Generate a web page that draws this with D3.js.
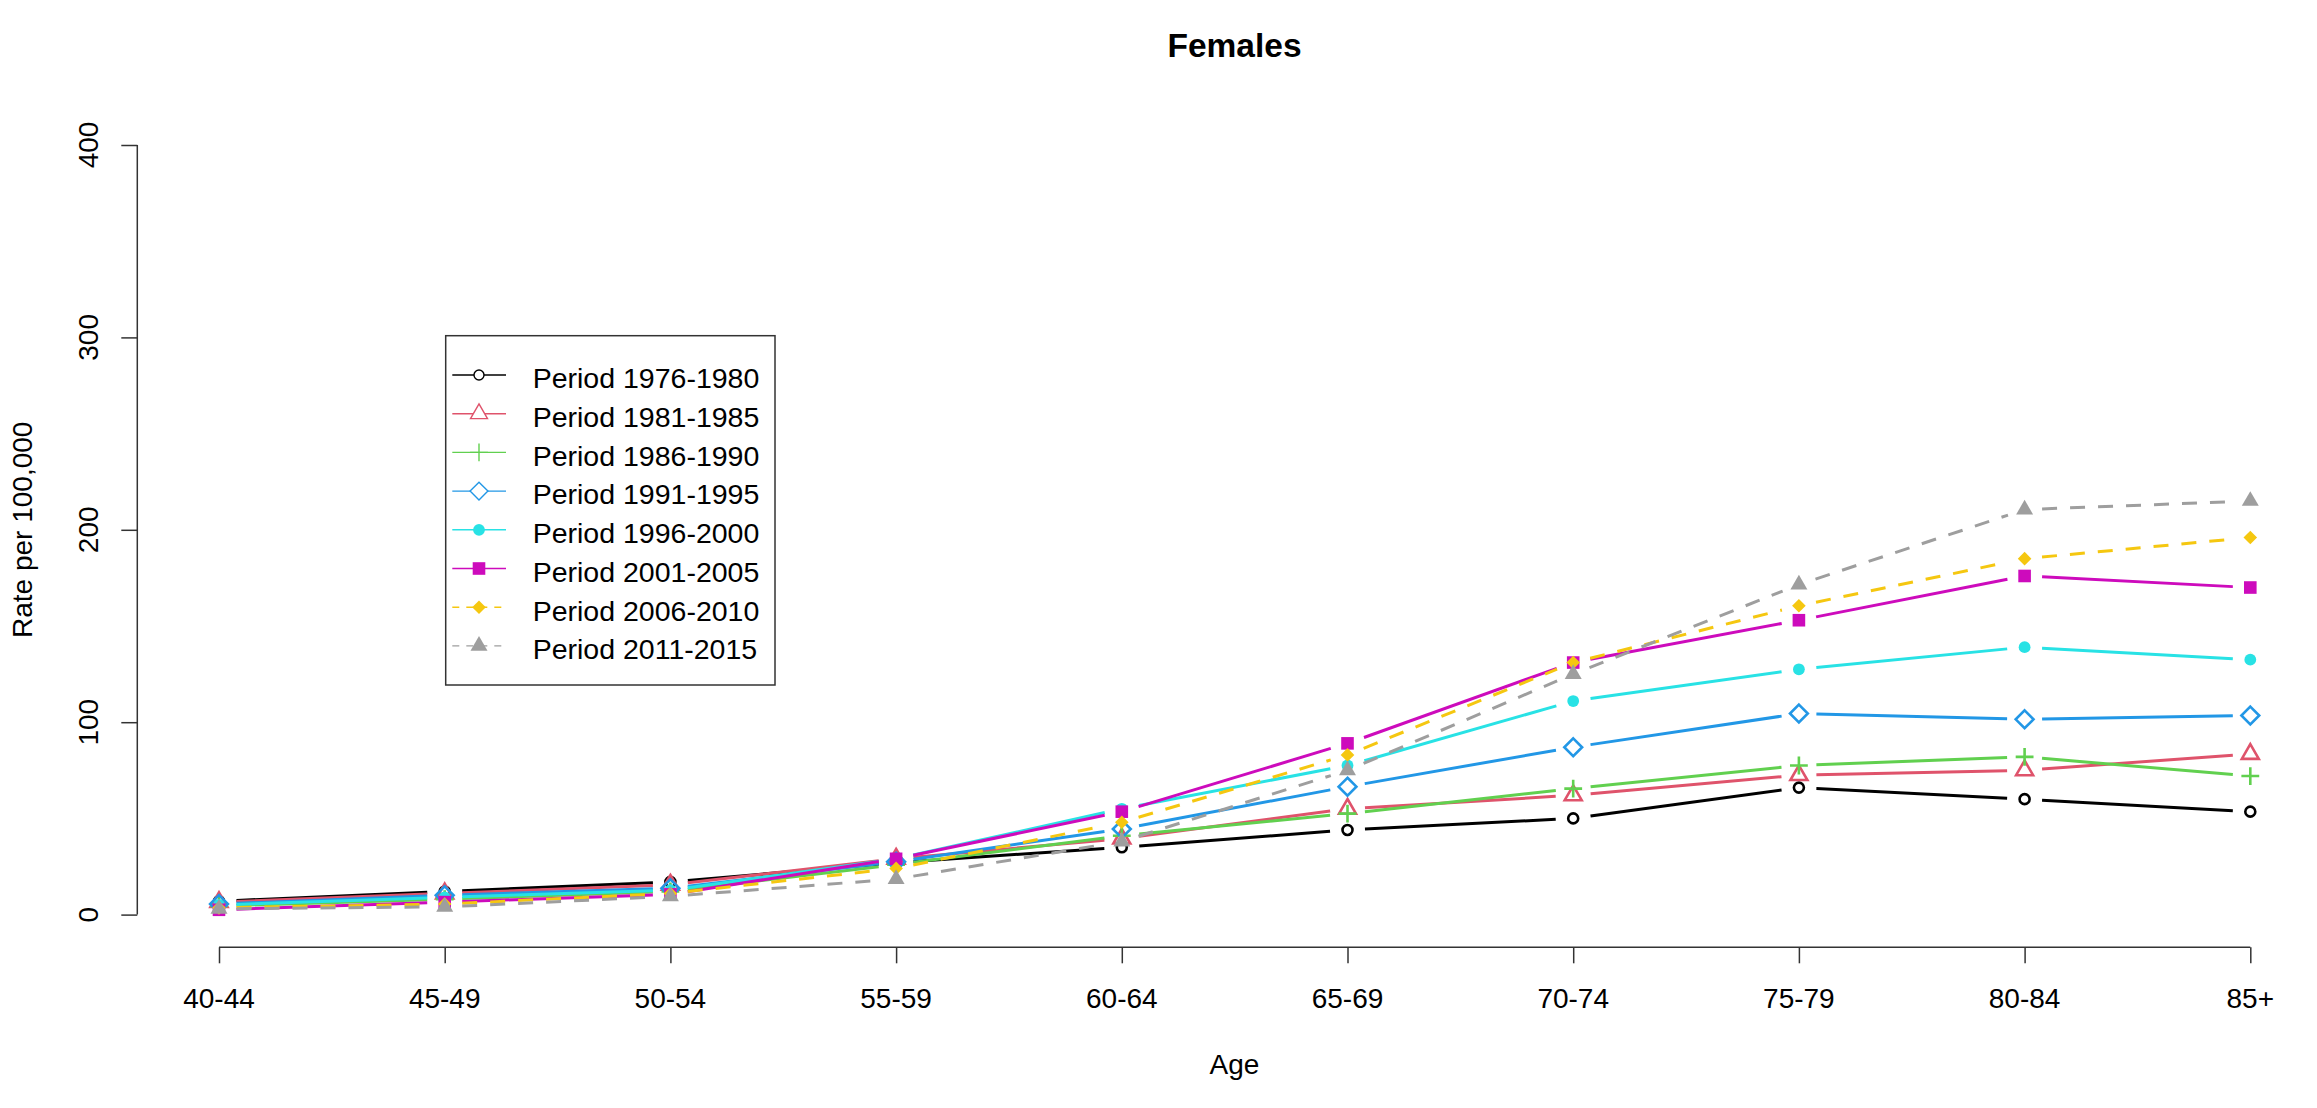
<!DOCTYPE html>
<html lang="en">
<head>
    <meta charset="UTF-8">
    <title>Females</title>
    <script src="https://cdn.jsdelivr.net/npm/d3@7"></script>
    <style>
        body { margin: 0; background: #fff; }
        text { font-family: "Liberation Sans", Arial, sans-serif; fill: #000; }
    </style>
</head>
<body>

<script>

    var ageGroups = ["40-44", "45-49", "50-54", "55-59", "60-64", "65-69", "70-74", "75-79", "80-84", "85+"];
    var yTicks = [0, 100, 200, 300, 400];

    var periods = ["Period 1976-1980", "Period 1981-1985", "Period 1986-1990", "Period 1991-1995",
                   "Period 1996-2000", "Period 2001-2005", "Period 2006-2010", "Period 2011-2015"];

    // rate per 100,000 for each age group
    var p1976 = [7, 12, 17, 27, 35, 44, 50, 66, 60, 53.5];
    var p1981 = [6.5, 11, 15.5, 29, 39.5, 55, 62, 72.5, 75, 83.5];
    var p1986 = [4.5, 8, 12, 26, 41, 52.5, 65.5, 77.5, 82, 72];
    var p1991 = [5.5, 10, 13.7, 27.5, 44.5, 66.5, 87, 104.5, 101.5, 103.5];
    var p1996 = [5, 9, 12.7, 29, 55, 77.5, 111, 127.5, 139, 132.5];
    var p2001 = [2.5, 6.5, 10.5, 29, 53.5, 89, 131, 153, 176, 170];
    var p2006 = [3.5, 5.5, 11, 24, 48, 83, 131, 160.5, 185, 196];
    var p2011 = [3, 4, 9.5, 18.5, 38, 75, 125, 171.5, 210.5, 215];

    var seriesValues = [p1976, p1981, p1986, p1991, p1996, p2001, p2006, p2011];

    var colors = ["#000000", "#DF536B", "#61D04F", "#2297E6", "#28E2E5", "#CD0BBC", "#F5C710", "#9E9E9E"];
    var pchs = [1, 2, 3, 5, 16, 15, 18, 17];
    var dashed = [false, false, false, false, false, false, true, true];

    var width = 2317, height = 1108;

    var svg = d3.select("body").append("svg")
            .attr("width", width)
            .attr("height", height);

    var x = d3.scalePoint()
            .domain(ageGroups)
            .range([219, 2250.3]);

    var y = d3.scaleLinear()
            .domain([0, 400])
            .range([914.6, 145]);

    // R style point symbols
    var xc = 6.3;
    function symbolPath(pch) {
        var r, h, s;
        if (pch == 1 || pch == 16) {
            r = pch == 16 ? 5.9 : 5;
            return "M" + (-r) + ",0A" + r + "," + r + " 0 1,0 " + r + ",0A" + r + "," + r + " 0 1,0 " + (-r) + ",0Z";
        }
        if (pch == 2 || pch == 17) {
            r = 1.5551 * xc; h = 1.3468 * xc; s = 0.7776 * xc;
            return "M0," + (-r) + "L" + h + "," + s + "L" + (-h) + "," + s + "Z";
        }
        if (pch == 3) {
            r = Math.SQRT2 * xc;
            return "M" + (-r) + ",0H" + r + "M0," + (-r) + "V" + r;
        }
        if (pch == 5 || pch == 18) {
            r = pch == 5 ? Math.SQRT2 * xc : 6.8;
            return "M0," + (-r) + "L" + r + ",0L0," + r + "L" + (-r) + ",0Z";
        }
        if (pch == 15) {
            r = xc;
            return "M" + (-r) + "," + (-r) + "H" + r + "V" + r + "H" + (-r) + "Z";
        }
    }
    function isFilled(pch) { return pch >= 15; }

    // axes
    var xAxis = d3.axisBottom(x).tickSize(16).tickPadding(0).tickFormat(function () { return ""; });
    var xAxisGroup = svg.append("g")
            .attr("class", "xaxis")
            .attr("transform", "translate(0,947.3)")
            .call(xAxis);
    xAxisGroup.select(".domain").attr("d", "M" + x(ageGroups[0]) + ",0H" + x(ageGroups[ageGroups.length - 1]));

    var yAxis = d3.axisLeft(y).tickValues(yTicks).tickSize(16).tickPadding(0).tickFormat(function () { return ""; });
    var yAxisGroup = svg.append("g")
            .attr("class", "yaxis")
            .attr("transform", "translate(137.3,0)")
            .call(yAxis);
    yAxisGroup.select(".domain").attr("d", "M0," + y(0) + "V" + y(400));

    svg.selectAll(".domain, .tick line")
            .attr("stroke", "#333")
            .attr("stroke-width", 1.5);

    svg.append("g").selectAll("text")
            .data(ageGroups)
            .enter()
            .append("text")
            .attr("x", function (d) { return x(d); })
            .attr("y", 1008.3)
            .attr("text-anchor", "middle")
            .attr("font-size", "28px")
            .text(function (d) { return d; });

    svg.append("g").selectAll("text")
            .data(yTicks)
            .enter()
            .append("text")
            .attr("transform", function (d) { return "translate(98," + y(d) + ") rotate(-90)"; })
            .attr("text-anchor", "middle")
            .attr("font-size", "28px")
            .text(function (d) { return d; });

    svg.append("text")
            .attr("transform", "translate(31.5," + ((y(0) + y(400)) / 2) + ") rotate(-90)")
            .attr("text-anchor", "middle")
            .attr("font-size", "28px")
            .text("Rate per 100,000");

    svg.append("text")
            .attr("x", 1234.5)
            .attr("y", 1074)
            .attr("text-anchor", "middle")
            .attr("font-size", "28px")
            .text("Age");

    svg.append("text")
            .attr("x", 1234.5)
            .attr("y", 56.7)
            .attr("text-anchor", "middle")
            .attr("font-size", "33.5px")
            .attr("font-weight", "bold")
            .text("Females");

    // type "b" lines: segments stop short of the points
    var gap = 17.5;
    var lineGroup = svg.append("g");
    seriesValues.forEach(function (vals, si) {
        var pts = vals.map(function (v, i) { return [x(ageGroups[i]), y(v)]; });
        var segs = [];
        for (var i = 0; i < pts.length - 1; i++) {
            var dx = pts[i + 1][0] - pts[i][0], dy = pts[i + 1][1] - pts[i][1];
            var len = Math.sqrt(dx * dx + dy * dy);
            if (len <= 2 * gap) continue;
            var ux = dx / len, uy = dy / len;
            segs.push([[pts[i][0] + ux * gap, pts[i][1] + uy * gap],
                       [pts[i + 1][0] - ux * gap, pts[i + 1][1] - uy * gap]]);
        }
        lineGroup.append("g").selectAll("path")
                .data(segs)
                .enter()
                .append("path")
                .attr("d", d3.line())
                .attr("fill", "none")
                .attr("stroke", colors[si])
                .attr("stroke-width", 3)
                .attr("stroke-dasharray", dashed[si] ? "15,13" : null);

        lineGroup.append("g").selectAll("path")
                .data(pts)
                .enter()
                .append("path")
                .attr("transform", function (d) { return "translate(" + d[0] + "," + d[1] + ")"; })
                .attr("d", symbolPath(pchs[si]))
                .attr("fill", isFilled(pchs[si]) ? colors[si] : "none")
                .attr("stroke", isFilled(pchs[si]) ? "none" : colors[si])
                .attr("stroke-width", 2.6);
    });

    // legend
    var legend = svg.append("g");
    legend.append("rect")
            .attr("x", 445.7)
            .attr("y", 335.7)
            .attr("width", 329.3)
            .attr("height", 349.3)
            .attr("fill", "#fff")
            .attr("stroke", "#333")
            .attr("stroke-width", 1.5);

    var rows = legend.selectAll(".row")
            .data(periods)
            .enter()
            .append("g")
            .attr("class", "row")
            .attr("transform", function (d, i) { return "translate(0," + (375 + i * 38.7) + ")"; });

    rows.append("line")
            .attr("x1", 452.3)
            .attr("x2", 506)
            .attr("stroke", function (d, i) { return colors[i]; })
            .attr("stroke-width", 1.4)
            .attr("stroke-dasharray", function (d, i) { return dashed[i] ? "7,7" : null; });

    rows.append("path")
            .attr("transform", "translate(479,0)")
            .attr("d", function (d, i) { return symbolPath(pchs[i]); })
            .attr("fill", function (d, i) { return isFilled(pchs[i]) ? colors[i] : "#fff"; })
            .attr("stroke", function (d, i) { return isFilled(pchs[i]) ? "none" : colors[i]; })
            .attr("stroke-width", 1.4);

    rows.append("text")
            .attr("x", 532.7)
            .attr("y", 13.3)
            .attr("font-size", "28.5px")
            .text(function (d) { return d; });

</script>

</body>
</html>
